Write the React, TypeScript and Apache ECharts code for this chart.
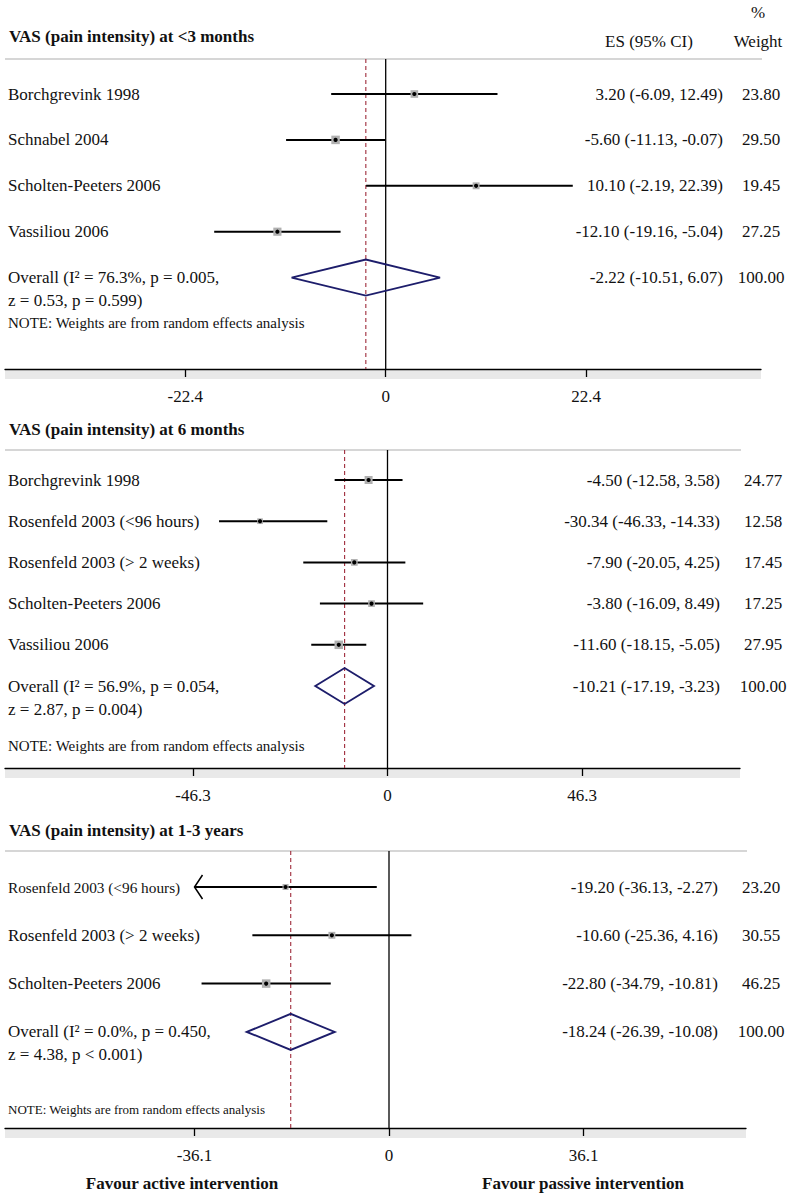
import React, { useEffect, useRef } from "react";
import * as echarts from "echarts";

// ---------------- Data ----------------
const p1Title = "VAS (pain intensity) at <3 months";
const p1Studies = ["Borchgrevink 1998", "Schnabel 2004", "Scholten-Peeters 2006", "Vassiliou 2006"];
const p1ES = [3.2, -5.6, 10.1, -12.1];
const p1Lo = [-6.09, -11.13, -2.19, -19.16];
const p1Hi = [12.49, -0.07, 22.39, -5.04];
const p1Weight = [23.8, 29.5, 19.45, 27.25];
const p1Arrow = [false, false, false, false];
const p1CiRange = [-1000, 20.9]; // drawing window of CI lines in the original figure
const p1Overall = [-2.22, -10.51, 6.07];
const p1OverallText = ["Overall (I² = 76.3%, p = 0.005,", "z = 0.53, p = 0.599)"];
const p1Ticks = [-22.4, 0, 22.4];

const p2Title = "VAS (pain intensity) at 6 months";
const p2Studies = [
  "Borchgrevink 1998",
  "Rosenfeld 2003 (<96 hours)",
  "Rosenfeld 2003 (> 2 weeks)",
  "Scholten-Peeters 2006",
  "Vassiliou 2006",
];
const p2ES = [-4.5, -30.34, -7.9, -3.8, -11.6];
const p2Lo = [-12.58, -46.33, -20.05, -16.09, -18.15];
const p2Hi = [3.58, -14.33, 4.25, 8.49, -5.05];
const p2Weight = [24.77, 12.58, 17.45, 17.25, 27.95];
const p2Arrow = [false, false, false, false, false];
const p2CiRange = [-40.1, 1000];
const p2Overall = [-10.21, -17.19, -3.23];
const p2OverallText = ["Overall (I² = 56.9%, p = 0.054,", "z = 2.87, p = 0.004)"];
const p2Ticks = [-46.3, 0, 46.3];

const p3Title = "VAS (pain intensity) at 1-3 years";
const p3Studies = ["Rosenfeld 2003 (<96 hours)", "Rosenfeld 2003 (> 2 weeks)", "Scholten-Peeters 2006"];
const p3ES = [-19.2, -10.6, -22.8];
const p3Lo = [-36.13, -25.36, -34.79];
const p3Hi = [-2.27, 4.16, -10.81];
const p3Weight = [23.2, 30.55, 46.25];
const p3Arrow = [true, false, false];
const p3CiRange = [-36.1, 1000];
const p3Overall = [-18.24, -26.39, -10.08];
const p3OverallText = ["Overall (I² = 0.0%, p = 0.450,", "z = 4.38, p < 0.001)"];
const p3Ticks = [-36.1, 0, 36.1];

const noteText = "NOTE: Weights are from random effects analysis";
const headerES = "ES (95% CI)";
const headerPct = "%";
const headerWeight = "Weight";
const favourLeft = "Favour active intervention";
const favourRight = "Favour passive intervention";

// ---------------- Layout (pixels) ----------------
const FONT = '"Liberation Serif", "Times New Roman", serif';
const TEXT = "#111111";

const panels = [
  {
    title: p1Title, studies: p1Studies, es: p1ES, lo: p1Lo, hi: p1Hi, w: p1Weight, arrow: p1Arrow, ciRange: p1CiRange,
    overall: p1Overall, overallText: p1OverallText, ticks: p1Ticks,
    L: { top: 59, bottom: 369, left: 5, right: 761, zeroX: 385.7, tickPx: 200.5, firstRowY: 94, rowGap: 45.9,
      titleY: 36, noteY: 323, noteSize: 15, esRight: 723, wCenter: 761, labelSizes: [17, 17, 17, 17] },
  },
  {
    title: p2Title, studies: p2Studies, es: p2ES, lo: p2Lo, hi: p2Hi, w: p2Weight, arrow: p2Arrow, ciRange: p2CiRange,
    overall: p2Overall, overallText: p2OverallText, ticks: p2Ticks,
    L: { top: 450, bottom: 768, left: 5, right: 740, zeroX: 387.5, tickPx: 194.5, firstRowY: 480, rowGap: 41.2,
      titleY: 429, noteY: 746, noteSize: 15, esRight: 720, wCenter: 763, labelSizes: [17, 17, 17, 17, 17] },
  },
  {
    title: p3Title, studies: p3Studies, es: p3ES, lo: p3Lo, hi: p3Hi, w: p3Weight, arrow: p3Arrow, ciRange: p3CiRange,
    overall: p3Overall, overallText: p3OverallText, ticks: p3Ticks,
    L: { top: 851, bottom: 1128, left: 5, right: 746, zeroX: 389, tickPx: 194.5, firstRowY: 887, rowGap: 48.3,
      titleY: 830, noteY: 1109, noteSize: 13, esRight: 718, wCenter: 761, labelSizes: [15.3, 17, 17] },
  },
];

function buildOption() {
  const grid: any[] = [];
  const xAxis: any[] = [];
  const yAxis: any[] = [];
  const series: any[] = [];
  const graphic: any[] = [];

  panels.forEach((P, pi) => {
    const L = P.L;
    const tickMax = P.ticks[P.ticks.length - 1];
    const pxPerUnit = L.tickPx / tickMax;
    const xMin = (L.left - L.zeroX) / pxPerUnit;
    const xMax = (L.right - L.zeroX) / pxPerUnit;
    const yMin = -(L.firstRowY - L.top) / L.rowGap;
    const yMax = yMin + (L.bottom - L.top) / L.rowGap;
    const n = P.studies.length;
    const maxW = Math.max(...P.w);

    grid.push({
      left: L.left, top: L.top, width: L.right - L.left, height: L.bottom - L.top,
      containLabel: false, outerBoundsMode: "none", show: false,
    });
    xAxis.push({
      type: "value", gridIndex: pi, min: xMin, max: xMax, position: "bottom",
      axisLine: { show: true, onZero: false, lineStyle: { color: "#000", width: 1.3 } },
      axisTick: { show: true, length: 8, customValues: P.ticks, lineStyle: { color: "#000", width: 1.3 } },
      axisLabel: {
        show: true, customValues: P.ticks, margin: 19, fontSize: 17, fontFamily: FONT, color: TEXT,
        formatter: (v: number) => String(v),
      },
      splitLine: { show: false },
    });
    yAxis.push({ type: "value", gridIndex: pi, inverse: true, min: yMin, max: yMax, show: false });

    // vertical zero line
    series.push({
      type: "line", xAxisIndex: pi, yAxisIndex: pi, silent: true, symbol: "none", animation: false,
      data: [[0, yMin], [0, yMax]],
      lineStyle: { color: "#000", width: 1.3 },
      z: 2,
    });
    // dashed overall line
    series.push({
      type: "line", xAxisIndex: pi, yAxisIndex: pi, silent: true, symbol: "none", animation: false,
      data: [[P.overall[0], yMin], [P.overall[0], yMax]],
      lineStyle: { color: "#9e2a3a", width: 1.1, type: [4, 3] },
      z: 2,
    });

    const data: any[] = P.studies.map((_, i) => [P.es[i], P.lo[i], P.hi[i], P.w[i], i]);
    data.push([P.overall[0], P.overall[1], P.overall[2], 100, n]);

    series.push({
      type: "custom", xAxisIndex: pi, yAxisIndex: pi, clip: false, silent: true, z: 3,
      encode: { x: [0, 1, 2], y: 4 },
      data,
      renderItem: (params: any, api: any) => {
        const i = params.dataIndex;
        const isOverall = i === n;
        const es = api.value(0), lo = api.value(1), hi = api.value(2), w = api.value(3), row = api.value(4);
        const c = api.coord([es, row]);
        const cy = c[1];
        const children: any[] = [];
        const txt = (text: string, x: number, y: number, align: string, size = 17) => ({
          type: "text",
          style: { text, x, y, align, verticalAlign: "middle", fill: TEXT, fontSize: size, fontFamily: FONT },
        });
        if (!isOverall) {
          const l = api.coord([Math.max(lo, P.ciRange[0]), row]);
          const h = api.coord([Math.min(hi, P.ciRange[1]), row]);
          children.push({ type: "line", shape: { x1: l[0], y1: cy, x2: h[0], y2: cy }, style: { stroke: "#000", lineWidth: 2 } });
          const s = 8.5 * Math.sqrt(w / maxW);
          children.push({ type: "rect", shape: { x: c[0] - s / 2, y: cy - s / 2, width: s, height: s }, style: { fill: "#b0b0b0" } });
          children.push({ type: "circle", shape: { cx: c[0], cy, r: 2.1 }, style: { fill: "#000" } });
          if (P.arrow[i]) {
            children.push({
              type: "polyline",
              shape: { points: [[l[0] + 8, cy - 12], [l[0], cy], [l[0] + 8, cy + 12]] },
              style: { stroke: "#000", lineWidth: 1.5, fill: null },
            });
          }
          children.push(txt(P.studies[i], 8, cy, "left", L.labelSizes[i]));
        } else {
          const l = api.coord([lo, row]);
          const h = api.coord([hi, row]);
          children.push({
            type: "polygon",
            shape: { points: [[l[0], cy], [c[0], cy - 18], [h[0], cy], [c[0], cy + 18]] },
            style: { fill: null, stroke: "#1d1d6b", lineWidth: 1.9 },
          });
          children.push(txt(P.overallText[0], 8, cy, "left"));
          children.push(txt(P.overallText[1], 8, cy + 23, "left"));
        }
        children.push(txt(`${es.toFixed(2)} (${lo.toFixed(2)}, ${hi.toFixed(2)})`, L.esRight, cy, "right"));
        children.push(txt(w.toFixed(2), L.wCenter, cy, "center"));
        return { type: "group", children };
      },
    });

    // title, top rule, note, bottom gray band
    graphic.push({
      type: "text", x: 9, y: L.titleY,
      style: { text: P.title, fontSize: 17, fontWeight: "bold", fontFamily: FONT, fill: TEXT, align: "left", verticalAlign: "middle" },
    });
    graphic.push({
      type: "line", shape: { x1: L.left, y1: L.top, x2: L.right + 1, y2: L.top },
      style: { stroke: "#c9c9c9", lineWidth: 1.5 }, z: -1,
    });
    graphic.push({
      type: "rect", shape: { x: L.left, y: L.bottom + 1, width: L.right - L.left, height: 9 },
      style: { fill: "#e9e9e9" }, z: -1,
    });
    graphic.push({
      type: "text", x: 8, y: L.noteY,
      style: { text: noteText, fontSize: L.noteSize, fontFamily: FONT, fill: TEXT, align: "left", verticalAlign: "middle" },
    });
  });

  // headers (first panel)
  graphic.push({
    type: "text", x: 758, y: 12,
    style: { text: headerPct, fontSize: 17, fontFamily: FONT, fill: TEXT, align: "center", verticalAlign: "middle" },
  });
  graphic.push({
    type: "text", x: 758, y: 41,
    style: { text: headerWeight, fontSize: 17, fontFamily: FONT, fill: TEXT, align: "center", verticalAlign: "middle" },
  });
  graphic.push({
    type: "text", x: 649, y: 41,
    style: { text: headerES, fontSize: 17, fontFamily: FONT, fill: TEXT, align: "center", verticalAlign: "middle" },
  });
  // bottom favour labels
  graphic.push({
    type: "text", x: 182, y: 1183,
    style: { text: favourLeft, fontSize: 17, fontWeight: "bold", fontFamily: FONT, fill: TEXT, align: "center", verticalAlign: "middle" },
  });
  graphic.push({
    type: "text", x: 583, y: 1183,
    style: { text: favourRight, fontSize: 17, fontWeight: "bold", fontFamily: FONT, fill: TEXT, align: "center", verticalAlign: "middle" },
  });

  return {
    animation: false,
    backgroundColor: "#ffffff",
    grid, xAxis, yAxis, series, graphic,
  };
}

export default function App() {
  const ref = useRef<HTMLDivElement>(null);
  useEffect(() => {
    if (!ref.current) return;
    const chart = echarts.init(ref.current, null, { renderer: "svg" });
    chart.setOption(buildOption() as any);
    return () => chart.dispose();
  }, []);
  return (
    <div
      ref={ref}
      style={{ position: "absolute", left: 0, top: 0, width: 794, height: 1198, background: "#fff" }}
    />
  );
}
